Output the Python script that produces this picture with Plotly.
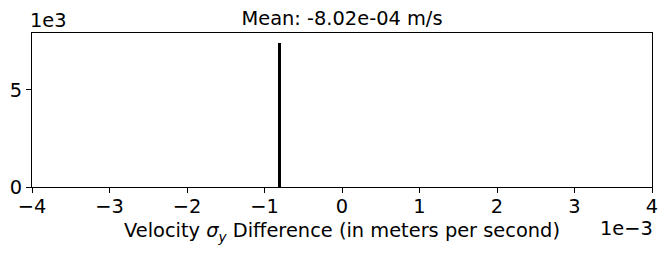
import plotly.graph_objects as go

# data (x in m/s, y counts)
bin_centers = [-0.000802]
counts = [7410]
x_tick_vals = [-0.004, -0.003, -0.002, -0.001, 0.0, 0.001, 0.002, 0.003, 0.004]
x_tick_text = ["\u22124", "\u22123", "\u22122", "\u22121", "0", "1", "2", "3", "4"]
y_tick_vals = [0, 5000]
y_tick_text = ["0", "5"]
title_text = "Mean: -8.02e-04 m/s"

FS = 19.4
fig = go.Figure(go.Bar(x=bin_centers, y=counts, width=0.00004,
                       marker=dict(color="black", line=dict(width=0))))

font = dict(family="DejaVu Sans", size=FS, color="black")
fig.update_layout(
    width=668, height=257,
    margin=dict(l=32, r=16, t=33, b=70, autoexpand=False),
    plot_bgcolor="white", paper_bgcolor="white",
    showlegend=False,
    font=font,
    title=dict(text=title_text, x=0.5, xref="paper", xanchor="center",
               y=1, yref="container", yanchor="top", pad=dict(t=11),
               font=dict(family="DejaVu Sans", size=FS, color="black")),
    bargap=0,
)
fig.update_xaxes(range=[-0.004, 0.004], tickvals=x_tick_vals, ticktext=x_tick_text,
                 showline=True, linecolor="black", linewidth=1.2, mirror=True,
                 ticks="outside", ticklen=5, tickcolor="black", showgrid=False,
                 zeroline=False, tickfont=dict(size=FS), automargin=False,
                 ticklabelstandoff=-3,
                 title=dict(text="Velocity <i>σ<sub>y</sub></i> Difference (in meters per second)",
                            font=dict(size=FS), standoff=6))
fig.update_yaxes(range=[0, 7930], tickvals=y_tick_vals, ticktext=y_tick_text,
                 showline=True, linecolor="black", linewidth=1.2, mirror=True,
                 ticks="outside", ticklen=5, tickcolor="black", showgrid=False,
                 zeroline=False, tickfont=dict(size=FS), automargin=False)
fig.add_annotation(text="1e3", xref="paper", yref="paper", x=0, y=1,
                   xanchor="left", yanchor="bottom", showarrow=False,
                   font=dict(size=FS), yshift=-1, xshift=-4)
fig.add_annotation(text="1e\u22123", xref="paper", yref="paper", x=1, y=0,
                   xanchor="right", yanchor="top", showarrow=False,
                   font=dict(size=FS), yshift=-28, xshift=3)
fig.write_html("out.html", config={"displayModeBar": False},
               post_script="document.body.style.margin='0px';")
